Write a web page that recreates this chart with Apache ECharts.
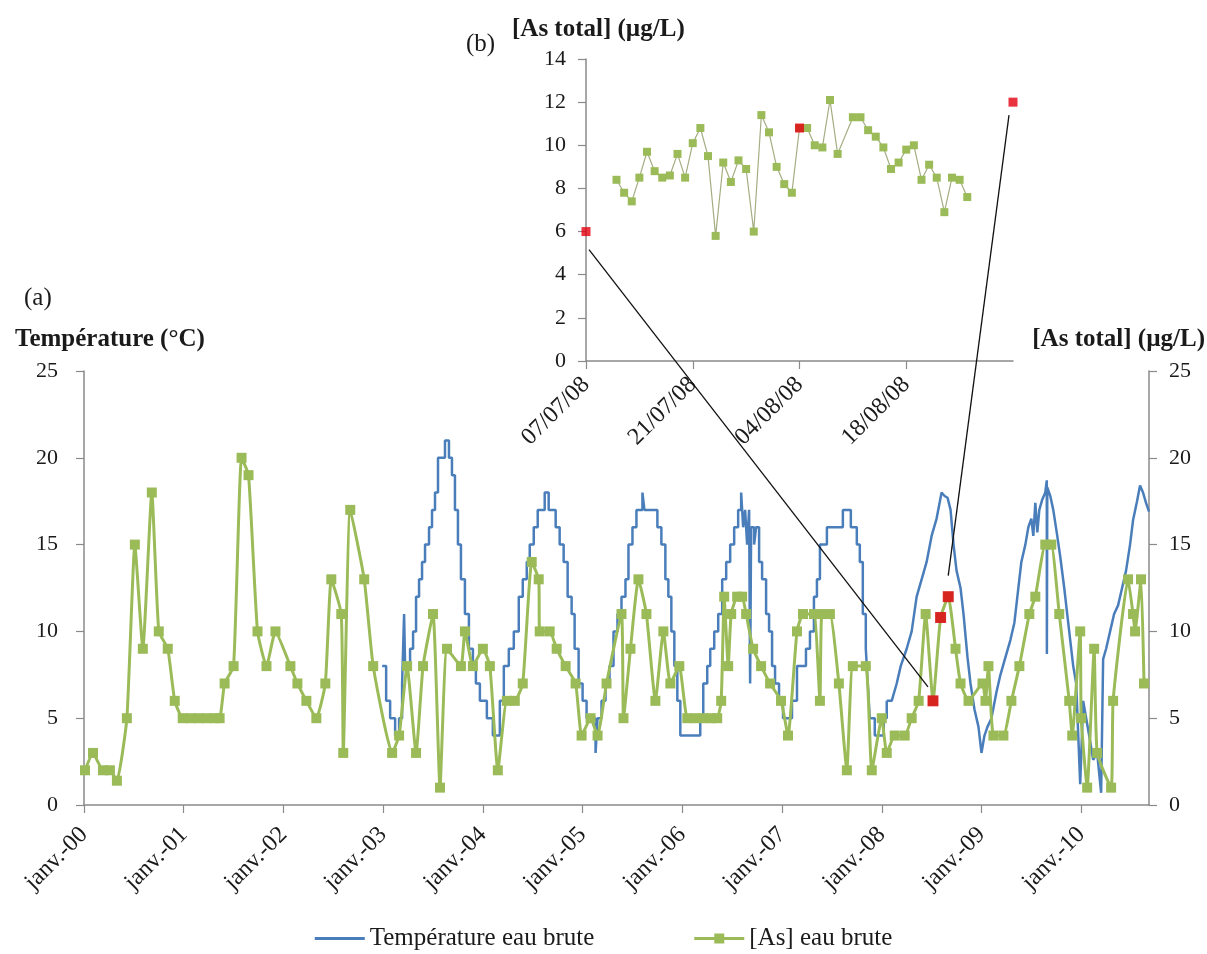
<!DOCTYPE html>
<html>
<head>
<meta charset="utf-8">
<script src="https://cdn.jsdelivr.net/npm/echarts@6/dist/echarts.min.js"></script>
<style>
html,body{margin:0;padding:0;background:#fff;}
#c{width:1207px;height:954px;}
</style>
</head>
<body>
<div id="c"></div>
<script>
// ---------------- DATA ----------------
const yearTickLabels = ['janv.-00','janv.-01','janv.-02','janv.-03','janv.-04','janv.-05','janv.-06','janv.-07','janv.-08','janv.-09','janv.-10'];
const insetTickLabels = ['07/07/08','21/07/08','04/08/08','18/08/08'];

// [As] eau brute (main chart), decimal years
const asYears = [2000.01,2000.09,2000.19,2000.26,2000.33,2000.43,2000.51,2000.59,2000.68,2000.75,2000.84,2000.91,
  2000.99,2001.07,2001.15,2001.23,2001.31,2001.36,2001.41,2001.50,2001.58,2001.65,2001.74,2001.83,2001.92,
  2002.07,2002.14,2002.23,2002.33,2002.42,2002.48,2002.58,2002.60,2002.67,2002.81,2002.90,
  2003.09,2003.16,2003.24,2003.33,2003.40,2003.50,2003.57,2003.64,2003.78,2003.82,2003.90,
  2004.00,2004.07,2004.15,2004.24,2004.32,2004.40,2004.49,2004.56,2004.57,2004.67,2004.74,2004.83,2004.93,2004.99,
  2005.08,2005.15,2005.24,2005.39,2005.41,2005.48,2005.56,2005.64,2005.73,2005.81,2005.88,2005.97,
  2006.05,2006.13,2006.21,2006.29,2006.35,2006.39,2006.42,2006.46,2006.49,2006.55,2006.60,2006.64,2006.71,2006.79,2006.88,2006.99,
  2007.06,2007.15,2007.21,2007.32,2007.38,2007.40,2007.48,2007.57,2007.65,2007.71,2007.84,2007.90,
  2008.00,2008.05,2008.13,2008.23,2008.30,2008.37,2008.44,2008.514,2008.590,2008.667,2008.74,2008.79,2008.87,
  2009.01,2009.04,2009.07,2009.12,2009.22,2009.30,2009.38,2009.48,2009.54,2009.64,2009.70,2009.78,2009.88,2009.91,2009.99,
  2010.00,2010.06,2010.13,2010.16,2010.30,2010.32,2010.47,2010.52,2010.54,2010.60,2010.63];
const asValues = [2,3,2,2,1.4,5,15,9,18,10,9,6,
  5,5,5,5,5,5,7,8,20,19,10,8,10,
  8,7,6,5,7,13,11,3,17,13,8,
  3,4,8,3,8,11,1,9,8,10,8,
  9,8,2,6,6,7,14,13,10,10,9,8,7,4,
  5,4,7,11,5,9,13,11,6,10,7,8,
  5,5,5,5,5,6,12,8,11,12,12,11,9,8,7,6,
  4,10,11,11,6,11,11,7,2,8,8,2,
  5,3,4,4,5,6,11,6,10.8,12,9,7,6,
  7,6,8,4,4,6,8,11,12,15,15,11,6,4,10,
  5,1,9,3,1,6,13,11,10,13,7];

// Highlighted samples (red), shared by both panels
const redDates = ['2008-07-07','2008-08-04','2008-09-01'];
const redValues = [6, 10.8, 12];

// Température eau brute: 2003-2008 (integer, stepped record)
const tempStepYears = [2002.99,2003.03,2003.07,2003.12,2003.16,2003.19,2003.21,2003.22,2003.27,2003.30,2003.33,2003.36,2003.39,2003.42,2003.46,2003.49,2003.52,2003.55,2003.62,2003.66,2003.69,2003.72,2003.75,2003.78,2003.82,2003.86,2003.90,2003.93,2003.97,
  2004.04,2004.10,2004.17,2004.21,2004.26,2004.31,2004.36,2004.40,2004.44,2004.47,2004.51,2004.55,2004.62,2004.66,2004.73,2004.77,2004.81,2004.85,2004.89,2004.92,2004.96,
  2005.00,2005.04,2005.13,2005.15,2005.19,2005.23,2005.27,2005.31,2005.35,2005.39,2005.43,2005.46,2005.50,2005.54,2005.60,2005.62,2005.75,2005.79,2005.83,2005.86,2005.89,2005.92,2005.95,2005.98,
  2006.18,2006.21,2006.25,2006.28,2006.32,2006.36,2006.40,2006.44,2006.48,2006.52,2006.56,2006.59,2006.61,2006.63,2006.65,2006.67,2006.68,2006.69,2006.72,2006.74,2006.77,2006.80,2006.84,2006.87,2006.90,2006.93,2006.97,
  2007.01,2007.10,2007.15,2007.24,2007.28,2007.32,2007.35,2007.38,2007.45,2007.61,2007.69,2007.75,2007.78,2007.81,2007.84,2007.86,2007.88,2007.93,
  2008.02,2008.05];
const tempStepValues = [8,6,5,4,5,7,11,8,9,10,12,13,14,15,16,17,18,20,21,20,19,17,15,13,11,9,8,7,6,
  5,4,6,8,9,10,12,13,14,15,16,17,18,17,16,15,14,12,11,9,7,
  6,5,3,5,6,7,8,10,11,12,13,15,16,17,18,17,16,15,13,12,10,8,6,4,
  5,7,8,9,10,11,13,14,15,16,17,18,16,17,15,17,7,16,15,16,14,13,11,10,8,7,6,
  5,6,8,9,10,12,13,15,16,17,16,15,14,11,9,7,5,4,
  5,6];
// Température eau brute: 2008-2010 (continuous record)
const tempYears = [2008.05,2008.10,2008.15,2008.19,2008.25,2008.30,2008.35,2008.40,2008.45,2008.50,2008.55,2008.60,2008.63,2008.66,2008.69,2008.72,2008.75,2008.79,2008.82,2008.86,2008.89,2008.93,2008.97,
  2009.00,2009.03,2009.06,2009.10,2009.15,2009.19,2009.24,2009.29,2009.33,2009.36,2009.40,2009.44,2009.47,2009.50,2009.52,2009.54,2009.56,2009.58,2009.61,2009.64,2009.655,2009.656,2009.66,2009.69,2009.72,2009.76,2009.79,2009.83,2009.86,2009.89,2009.92,2009.95,2009.99,
  2010.02,2010.05,2010.08,2010.12,2010.16,2010.20,2010.22,2010.25,2010.29,2010.33,2010.37,2010.41,2010.45,2010.49,2010.52,2010.56,2010.59,2010.62,2010.65,2010.68];
const tempValues = [6,6,7,8,9,10,12,13,14,15.5,16.5,18,17.8,17.7,17,15,13.5,12.5,11,8.5,7,5.5,4.5,
  3,4,4.5,5,6.5,7.5,8.5,9.5,10.5,12,14,15,16,16.5,15.5,17.4,15.7,17,17.6,18,18.7,8.7,18.3,17.8,17,15.5,14.3,12.5,11,9.5,8,7,1.2,
  6,5,4,2.6,3,0.7,8.4,9,10,11,11.5,12.5,13.5,15,16.4,17.5,18.4,18,17.4,16.9];

// Inset (b): days after 07/07/08
const insetStartDate = '2008-07-07';
const insetDays = [4,5,6,7,8,9,10,11,12,13,14,15,16,17,18,19,20,21,22,23,24,25,26,27,28,29,30,31,32,33,35,36,37,38,39,40,41,42,43,44,45,46,47,48,49,50];
const insetValues = [8.4,7.8,7.4,8.5,9.7,8.8,8.5,8.6,9.6,8.5,10.1,10.8,9.5,5.8,9.2,8.3,9.3,8.9,6.0,11.4,10.6,9.0,8.2,7.8,10.8,10.8,10.0,9.9,12.1,9.6,11.3,11.3,10.7,10.4,9.9,8.9,9.2,9.8,10.0,8.4,9.1,8.5,6.9,8.5,8.4,7.6];

// ---------------- HELPERS ----------------
function toDecimalYear(s){
  const d = new Date(s + 'T00:00:00Z');
  const y = d.getUTCFullYear();
  const start = Date.UTC(y,0,1), end = Date.UTC(y+1,0,1);
  return y + (d.getTime()-start)/(end-start);
}
function dayOffset(s){
  return (new Date(s+'T00:00:00Z').getTime() - new Date(insetStartDate+'T00:00:00Z').getTime())/86400000;
}
const zip = (a,b) => a.map((v,i)=>[v,b[i]]);

const FONT = '"Liberation Serif", "Times New Roman", serif';
const AX = '#8a8a8a';
const TXT = '#1a1a1a';
const BLUE = '#4A7EBB';
const GREEN = '#9BBB59';
const RED = '#E3000F';

const chart = echarts.init(document.getElementById('c'), null, {renderer:'canvas'});

function axisCommon(extra){
  return Object.assign({
    splitLine:{show:false},
    axisLine:{show:true, lineStyle:{color:AX, width:1.5}},
    axisTick:{show:true, length:8, lineStyle:{color:AX, width:1.2}},
  }, extra);
}

const option = {
  animation:false,
  backgroundColor:'#ffffff',
  textStyle:{fontFamily:FONT},
  grid:[
    {left:84, right:58, top:371, bottom:149},
    {left:586, top:59, width:427, height:302}
  ],
  xAxis:[
    axisCommon({gridIndex:0, type:'value', min:2000, max:2010.68, interval:1,
      axisLabel:{rotate:45, fontSize:24, color:TXT, fontFamily:FONT, margin:26, showMaxLabel:false,
        formatter:v => { const i = Math.round(v)-2000; return Math.abs(v-Math.round(v))<1e-6 ? (yearTickLabels[i]||'') : ''; }}}),
    axisCommon({gridIndex:1, type:'value', min:0, max:56, interval:14,
      axisLabel:{rotate:45, fontSize:24, color:TXT, fontFamily:FONT, margin:20, showMaxLabel:false,
        formatter:v => insetTickLabels[Math.round(v/14)] || ''}})
  ],
  yAxis:[
    axisCommon({gridIndex:0, type:'value', min:0, max:25, interval:5, position:'left',
      axisLabel:{fontSize:22, color:TXT, fontFamily:FONT, margin:26}}),
    axisCommon({gridIndex:0, type:'value', min:0, max:25, interval:5, position:'right',
      axisLabel:{fontSize:22, color:TXT, fontFamily:FONT, margin:20}}),
    axisCommon({gridIndex:1, type:'value', min:0, max:14, interval:2, position:'left',
      axisLabel:{fontSize:22, color:TXT, fontFamily:FONT, margin:20}})
  ],
  legend:{
    data:[
      {name:'Température eau brute', icon:'path://M0,0 L50,0 L50,3 L0,3 Z'},
      {name:'[As] eau brute', icon:'path://M0,4.5 L50,4.5 L50,7.5 L0,7.5 Z M20,1 L30,1 L30,11 L20,11 Z'}
    ],
    bottom:-2, left:'center', itemWidth:50, itemHeight:12, itemGap:100,
    textStyle:{fontFamily:FONT, fontSize:25, color:TXT}
  },
  series:[
    {name:'Température eau brute', type:'line', xAxisIndex:0, yAxisIndex:0, step:'end',
     data:zip(tempStepYears,tempStepValues), symbol:'none', z:2,
     lineStyle:{color:BLUE, width:2.5}, itemStyle:{color:BLUE}},
    {name:'Température eau brute', type:'line', xAxisIndex:0, yAxisIndex:0,
     data:zip(tempYears,tempValues), symbol:'none', z:2,
     lineStyle:{color:BLUE, width:2.5}, itemStyle:{color:BLUE}},
    {name:'[As] eau brute', type:'line', xAxisIndex:0, yAxisIndex:1, smooth:0.15,
     data:zip(asYears,asValues), symbol:'rect', symbolSize:10, z:3,
     lineStyle:{color:GREEN, width:3}, itemStyle:{color:GREEN}},
    {name:'red-main', type:'scatter', xAxisIndex:0, yAxisIndex:1,
     data:zip(redDates.map(toDecimalYear), redValues), symbol:'rect', symbolSize:11, z:5,
     itemStyle:{color:RED}},
    {name:'inset', type:'line', xAxisIndex:1, yAxisIndex:2,
     data:zip(insetDays,insetValues), symbol:'rect', symbolSize:8, z:3,
     lineStyle:{color:'#a4ad82', width:1.2}, itemStyle:{color:GREEN}},
    {name:'red-inset', type:'scatter', xAxisIndex:1, yAxisIndex:2,
     data:zip(redDates.map(dayOffset), redValues), symbol:'rect', symbolSize:9, z:5,
     itemStyle:{color:RED}}
  ]
};
chart.setOption(option);

// connector lines between the highlighted points of both panels
function connector(id, a, b, offA, offB){
  return {type:'line', id, z:10, silent:true,
    shape:{x1:a[0]+offA[0], y1:a[1]+offA[1], x2:b[0]+offB[0], y2:b[1]+offB[1]},
    style:{stroke:'#111', lineWidth:1.3}};
}
const insetPts = redDates.map((d,i)=>chart.convertToPixel({xAxisIndex:1, yAxisIndex:2},[dayOffset(d), redValues[i]]));
const mainPts = redDates.map((d,i)=>chart.convertToPixel({xAxisIndex:0, yAxisIndex:1},[toDecimalYear(d), redValues[i]]));

function label(id, text, x, y, bold, align){
  return {type:'text', id, x, y, z:10, silent:true,
    style:{text, font:(bold?'bold ':'')+'25px '+FONT, fill:TXT,
      align:align||'left', verticalAlign:'middle', textAlign:align||'left', textVerticalAlign:'middle'}};
}

chart.setOption({graphic:[
  label('ta','(a)',24,298,false),
  label('tb','(b)',466,44,false),
  label('yl','Température (°C)',15,340,true),
  label('yr','[As total] (µg/L)',1205,340,true,'right'),
  label('yi','[As total] (µg/L)',512,30,true),
  connector('c1', insetPts[0], mainPts[0], [3,18], [-5,-14]),
  connector('c2', insetPts[2], mainPts[2], [-4,13], [0,-21])
]});
</script>
</body>
</html>
